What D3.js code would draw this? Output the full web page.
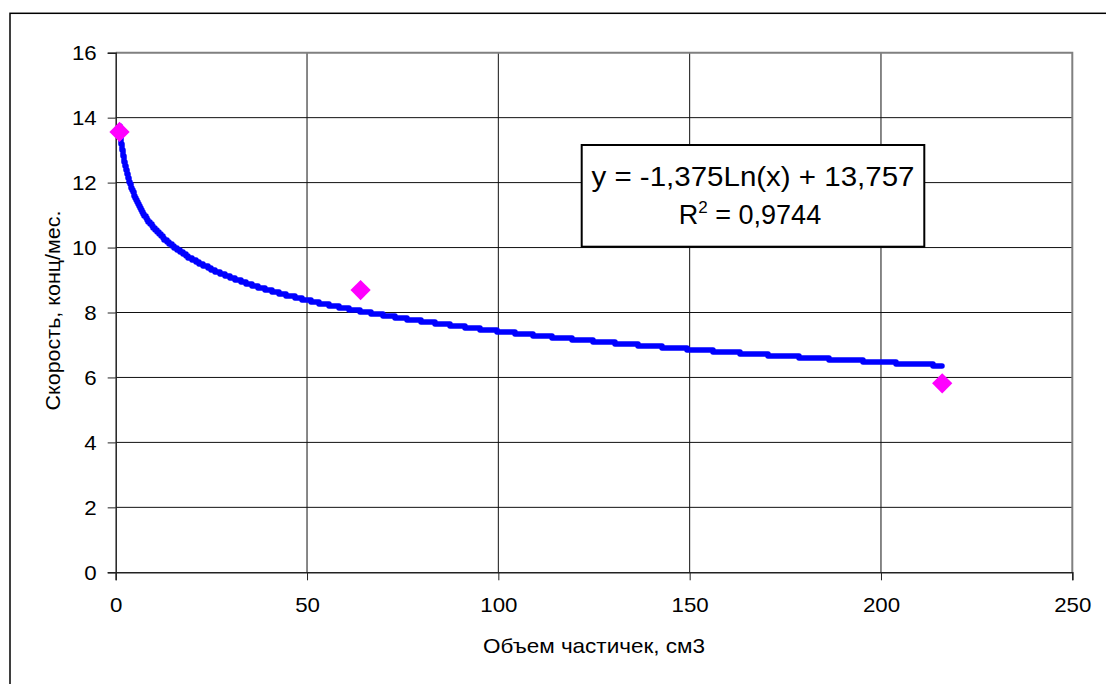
<!DOCTYPE html>
<html>
<head>
<meta charset="utf-8">
<script src="https://cdn.jsdelivr.net/npm/d3@7"></script>
<style>
  html, body { margin: 0; padding: 0; background: #fff; }
  text { font-family: "Liberation Sans", Arial, sans-serif; fill: #000; }
</style>
</head>
<body>
<svg id="chart" width="1106" height="684"></svg>
<script>
// ---- data ----
const pointX = [1, 64, 216];
const pointY = [13.56, 8.69, 5.82];
const xTicks = [0, 50, 100, 150, 200, 250];
const yTicks = [0, 2, 4, 6, 8, 10, 12, 14, 16];
// logarithmic trendline shown in the chart: y = a*ln(x) + b
const trendCoef = [-1.375, 13.757];
const trendRange = [1, 216];
const equationText = "y = -1,375Ln(x) + 13,757";
const r2Text = "0,9744";
const xTitle = "Объем частичек, см3";
const yTitle = "Скорость, конц/мес.";

const svg = d3.select("#chart");
const plot = { left: 115.7, right: 1072.3, top: 52.7, bottom: 572.3 };

const x = d3.scaleLinear().domain([0, 250]).range([plot.left, plot.right]);
const y = d3.scaleLinear().domain([0, 16]).range([plot.bottom, plot.top]);

// outer chart border (runs off the right and bottom edges)
svg.append("rect")
  .attr("x", 10).attr("y", 13.3)
  .attr("width", 1200).attr("height", 800)
  .attr("fill", "#fff").attr("stroke", "#000").attr("stroke-width", 1.5);

// gridlines
svg.append("g").selectAll("line").data(yTicks.filter(d => d > 0 && d < 16)).join("line")
  .attr("x1", plot.left).attr("x2", plot.right)
  .attr("y1", d => y(d)).attr("y2", d => y(d))
  .attr("stroke", "#111").attr("stroke-width", 1);
svg.append("g").selectAll("line").data(xTicks.filter(d => d > 0 && d < 250)).join("line")
  .attr("y1", plot.top).attr("y2", plot.bottom)
  .attr("x1", d => x(d)).attr("x2", d => x(d))
  .attr("stroke", "#111").attr("stroke-width", 1);

// plot area border top/right (gray)
svg.append("path")
  .attr("d", `M${plot.left},${plot.top}H${plot.right}V${plot.bottom}`)
  .attr("fill", "none").attr("stroke", "#808080").attr("stroke-width", 2);

// axes
const xAxis = d3.axisBottom(x).tickValues(xTicks).tickSize(8).tickPadding(24).tickFormat(d3.format("d"));
const yAxis = d3.axisLeft(y).tickValues(yTicks).tickSize(8).tickPadding(11).tickFormat(d3.format("d"));

const gx = svg.append("g").attr("transform", `translate(0,${plot.bottom})`).call(xAxis);
const gy = svg.append("g").attr("transform", `translate(${plot.left},0)`).call(yAxis);
[gx, gy].forEach(g => {
  g.select(".domain").attr("stroke", "#222").attr("stroke-width", 1.5);
  g.selectAll(".tick line").attr("stroke", "#222").attr("stroke-width", 1);
  g.selectAll(".tick text")
    .style("font-family", '"Liberation Sans", Arial, sans-serif')
    .style("font-size", "21px").attr("fill", "#000")
    .attr("textLength", d => String(d).length * 12.4)
    .attr("lengthAdjust", "spacingAndGlyphs");
});
gx.selectAll(".tick text").attr("dy", "0.35em");

// trendline (drawn pixel-stepped like the original rendering)
const trendPts = d3.range(trendRange[0], trendRange[1] + 0.001, 0.25)
  .map(v => [v, trendCoef[0] * Math.log(v) + trendCoef[1]]);
const stepLine = d3.line()
  .x(d => Math.round(x(d[0])))
  .y(d => Math.round(y(d[1]) / 2) * 2)
  .curve(d3.curveStepAfter);
svg.append("path")
  .datum(trendPts)
  .attr("d", stepLine)
  .attr("fill", "none").attr("stroke", "#0000FF")
  .attr("stroke-width", 5.5).attr("stroke-linecap", "round").attr("stroke-linejoin", "round");

// markers
const diamond = d3.symbol().type(d3.symbolSquare).size(205);
svg.append("g").selectAll("path").data(pointX.map((v, i) => [v, pointY[i]])).join("path")
  .attr("d", diamond)
  .attr("transform", d => `translate(${x(d[0])},${y(d[1])}) rotate(45)`)
  .attr("fill", "#FF00FF");

// equation box
svg.append("rect")
  .attr("x", 581.7).attr("y", 145).attr("width", 342.6).attr("height", 101.7)
  .attr("fill", "#fff").attr("stroke", "#000").attr("stroke-width", 2);
svg.append("text")
  .attr("x", 753).attr("y", 186).attr("text-anchor", "middle")
  .style("font-size", "27px")
  .attr("textLength", 323).attr("lengthAdjust", "spacingAndGlyphs")
  .text(equationText);
const r2 = svg.append("text")
  .attr("x", 750).attr("y", 224).attr("text-anchor", "middle")
  .style("font-size", "27px");
r2.append("tspan").text("R");
r2.append("tspan").attr("dy", -11).style("font-size", "17px").text("2");
r2.append("tspan").attr("dy", 11).text(" = " + r2Text);

// axis titles
svg.append("text")
  .attr("x", 594).attr("y", 653).attr("text-anchor", "middle")
  .style("font-size", "21px")
  .attr("textLength", 222).attr("lengthAdjust", "spacingAndGlyphs")
  .text(xTitle);
svg.append("text")
  .attr("transform", `translate(60,${(plot.top + plot.bottom) / 2 - 2}) rotate(-90)`)
  .attr("text-anchor", "middle")
  .style("font-size", "21px")
  .attr("textLength", 200).attr("lengthAdjust", "spacingAndGlyphs")
  .text(yTitle);
</script>
</body>
</html>
